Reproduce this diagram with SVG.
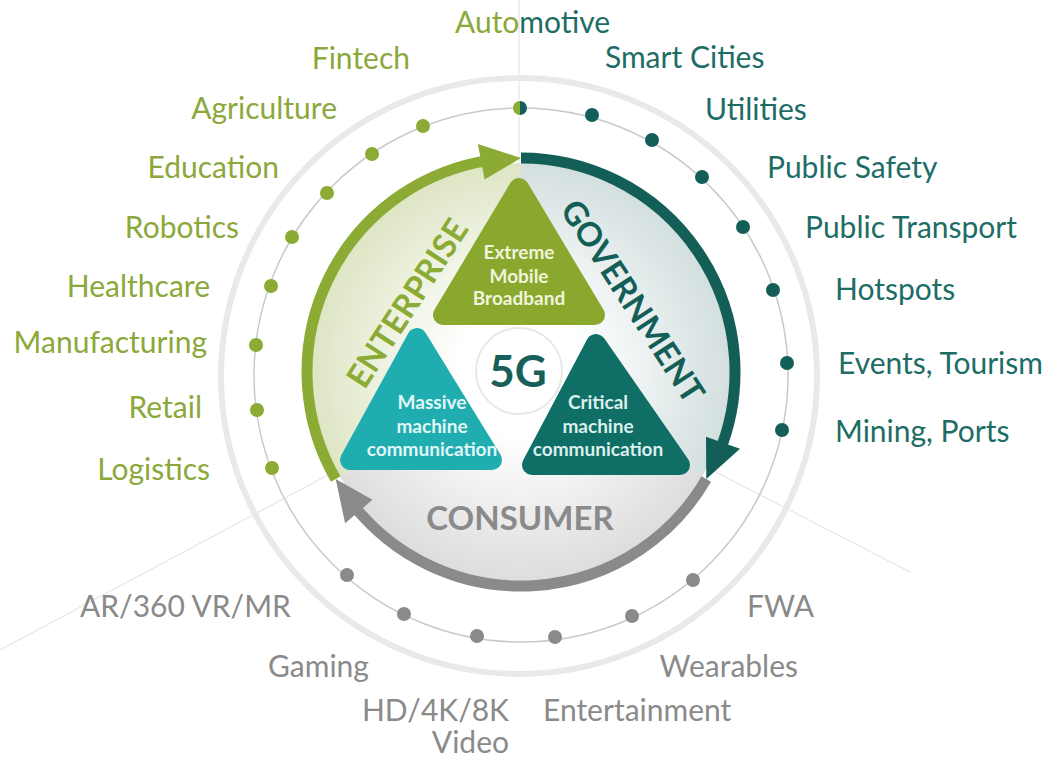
<svg xmlns="http://www.w3.org/2000/svg" width="1057" height="758" viewBox="0 0 1057 758">
<style>
.lbl{font-family:Lato,"Liberation Sans",sans-serif;font-size:30px}
.g{fill:#8ba83b}.t{fill:#1d6d66}.s{fill:#8a8a8a}
.big{font-family:Lato,"Liberation Sans",sans-serif;font-weight:bold;font-size:33px}
.tri{font-family:Lato,"Liberation Sans",sans-serif;font-weight:bold;font-size:19px;text-anchor:middle}
.div{stroke:#e6e6e6;stroke-width:1.2;fill:none}
.dg{fill:#8bab35}.dt{fill:#135f58}.ds{fill:#8a8a8a}
</style>
<defs>
<radialGradient id="gE" gradientUnits="userSpaceOnUse" cx="521" cy="372" r="212"><stop offset="0.3" stop-color="#ffffff"/><stop offset="1" stop-color="#dde5c3"/></radialGradient>
<radialGradient id="gG" gradientUnits="userSpaceOnUse" cx="521" cy="372" r="212"><stop offset="0.3" stop-color="#ffffff"/><stop offset="1" stop-color="#d2dede"/></radialGradient>
<radialGradient id="gC" gradientUnits="userSpaceOnUse" cx="521" cy="372" r="212"><stop offset="0.3" stop-color="#ffffff"/><stop offset="1" stop-color="#dcdcdc"/></radialGradient>
</defs>
<rect width="1057" height="758" fill="#ffffff"/>

<g id="background">
<line class="div" x1="519" y1="0" x2="519" y2="372"/>
<line class="div" x1="521" y1="372" x2="0" y2="650"/>
<line class="div" x1="521" y1="372" x2="910" y2="572"/>
<circle cx="519" cy="376" r="298" fill="none" stroke="#e9e9e9" stroke-width="6"/>
<circle cx="521" cy="375" r="267" fill="none" stroke="#c9c9c9" stroke-width="1.5"/>
</g>

<g id="disc">
<path d="M521,372 L340,476.5 A209,209 0 0 1 521,163 Z" fill="url(#gE)"/>
<path d="M521,372 L521,163 A209,209 0 0 1 702,476.5 Z" fill="url(#gG)"/>
<path d="M521,372 L702,476.5 A209,209 0 0 1 340,476.5 Z" fill="url(#gC)"/>
</g>

<g id="connectors">
<path d="M335.7,479 A214,214 0 0 1 491.2,160.1" fill="none" stroke="#8bab35" stroke-width="11"/>
<polygon points="521,158 477.9,144 484.6,179.4" fill="#8bab35"/>
<path d="M521,158 A214,214 0 0 1 719.4,452.2" fill="none" stroke="#135f58" stroke-width="11"/>
<polygon points="706.3,479 740,448.7 706,436.8" fill="#135f58"/>
<path d="M706.3,479 A214,214 0 0 1 352.4,503.8" fill="none" stroke="#8a8a8a" stroke-width="11"/>
<polygon points="335.7,479 345.1,523.3 372.4,499.8" fill="#8a8a8a"/>
</g>

<g id="enterprise-label"><text class="big" fill="#8bab35" text-anchor="middle" transform="translate(407,303) rotate(-57)" y="12">ENTERPRISE</text></g>
<g id="government-label"><text class="big" fill="#135f58" text-anchor="middle" transform="translate(633,301) rotate(57)" y="12">GOVERNMENT</text></g>
<g id="consumer-label"><text class="big" fill="#8a8a8a" text-anchor="middle" x="520" y="530" font-size="34">CONSUMER</text></g>

<g id="embb">
<polygon points="519,188 443,315 595,315" fill="#8aa82e" stroke="#8aa82e" stroke-width="20" stroke-linejoin="round"/>
<text class="tri" fill="#f1f4dc" x="519" y="259">Extreme</text>
<text class="tri" fill="#f1f4dc" x="519" y="283">Mobile</text>
<text class="tri" fill="#f1f4dc" x="519" y="305">Broadband</text>
</g>
<g id="mmc">
<polygon points="417,338 350,460 492,460" fill="#1fadb0" stroke="#1fadb0" stroke-width="20" stroke-linejoin="round"/>
<text class="tri" fill="#e3f6f6" x="432" y="409">Massive</text>
<text class="tri" fill="#e3f6f6" x="432" y="433">machine</text>
<text class="tri" fill="#e3f6f6" x="432" y="456">communication</text>
</g>
<g id="cmc">
<polygon points="596,344 532,465 680,465" fill="#0f6e66" stroke="#0f6e66" stroke-width="20" stroke-linejoin="round"/>
<text class="tri" fill="#dcefed" x="598" y="409">Critical</text>
<text class="tri" fill="#dcefed" x="598" y="433">machine</text>
<text class="tri" fill="#dcefed" x="598" y="456">communication</text>
</g>
<g id="core-5g">
<circle cx="519" cy="371" r="43" fill="#ffffff" stroke="#e8e8e8" stroke-width="2"/>
<text x="518" y="387" text-anchor="middle" font-family="Lato,'Liberation Sans',sans-serif" font-weight="bold" font-size="44" fill="#175f58">5G</text>
</g>

<g id="dots">
<path d="M520,101 A7,7 0 0 0 520,115 Z" class="dg"/>
<path d="M520,101 A7,7 0 0 1 520,115 Z" class="dt"/>
<circle cx="423" cy="126" r="7" class="dg"/>
<circle cx="372" cy="154" r="7" class="dg"/>
<circle cx="327" cy="193" r="7" class="dg"/>
<circle cx="292" cy="237" r="7" class="dg"/>
<circle cx="271" cy="286" r="7" class="dg"/>
<circle cx="256" cy="345" r="7" class="dg"/>
<circle cx="257" cy="410" r="7" class="dg"/>
<circle cx="272" cy="468" r="7" class="dg"/>
<circle cx="592" cy="115" r="7" class="dt"/>
<circle cx="652" cy="140" r="7" class="dt"/>
<circle cx="702" cy="177" r="7" class="dt"/>
<circle cx="743" cy="227" r="7" class="dt"/>
<circle cx="773" cy="290" r="7" class="dt"/>
<circle cx="787" cy="363" r="7" class="dt"/>
<circle cx="782" cy="430" r="7" class="dt"/>
<circle cx="347" cy="575" r="7" class="ds"/>
<circle cx="404" cy="614" r="7" class="ds"/>
<circle cx="477" cy="636" r="7" class="ds"/>
<circle cx="555" cy="637" r="7" class="ds"/>
<circle cx="632" cy="616" r="7" class="ds"/>
<circle cx="693" cy="580" r="7" class="ds"/>
</g>

<g id="enterprise-items" class="lbl g" text-anchor="end">
<text x="410" y="69">Fintech</text>
<text x="337" y="119">Agriculture</text>
<text x="279" y="178">Education</text>
<text x="239" y="238">Robotics</text>
<text x="210" y="297">Healthcare</text>
<text x="207" y="353">Manufacturing</text>
<text x="202" y="418">Retail</text>
<text x="210" y="480">Logistics</text>
</g>
<g id="automotive"><text class="lbl" x="455" y="33"><tspan class="g">Auto</tspan><tspan class="t">motive</tspan></text></g>
<g id="government-items" class="lbl t">
<text x="605" y="68">Smart Cities</text>
<text x="705" y="120">Utilities</text>
<text x="767" y="178">Public Safety</text>
<text x="805" y="238">Public Transport</text>
<text x="835" y="300">Hotspots</text>
<text x="838" y="374">Events, Tourism</text>
<text x="835" y="442">Mining, Ports</text>
</g>
<g id="consumer-items" class="lbl s">
<text x="80" y="617">AR/360 VR/MR</text>
<text x="747" y="617">FWA</text>
<text x="268" y="677">Gaming</text>
<text x="798" y="677" text-anchor="end">Wearables</text>
<text text-anchor="end"><tspan x="509" y="721">HD/4K/8K</tspan><tspan x="509" y="753">Video</tspan></text>
<text x="543" y="721">Entertainment</text>
</g>
</svg>
